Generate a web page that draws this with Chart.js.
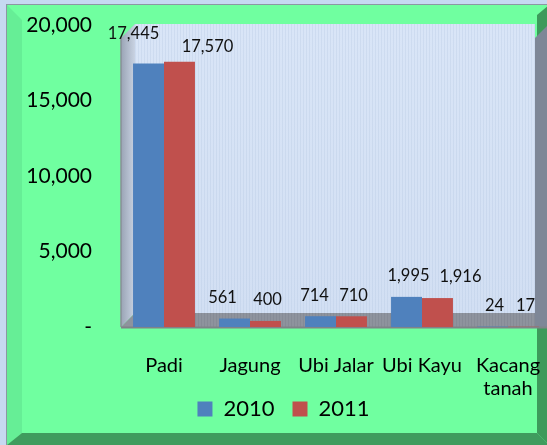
<!DOCTYPE html>
<html>
<head>
<meta charset="utf-8">
<script src="https://cdn.jsdelivr.net/npm/chart.js@4"></script>
<style>
html,body{margin:0;padding:0;background:#c6d9f1;}
#wrap{width:547px;height:445px;overflow:hidden;position:relative;}
canvas{display:block;}
</style>
</head>
<body>
<div id="wrap"><canvas id="c" width="560" height="445" style="width:560px;height:445px"></canvas></div>
<script>
const categories = ['Padi', 'Jagung', 'Ubi Jalar', 'Ubi Kayu', ['Kacang', 'tanah']];
const seriesNames = ['2010', '2011'];
const values2010 = [17445, 561, 714, 1995, 24];
const values2011 = [17570, 400, 710, 1916, 17];
const yTicks = [0, 5000, 10000, 15000, 20000];

const colors = ['#4F81BD', '#C0504D'];
const labelNudges = [
  [[-17, -9], [-14, 0], [-8, 0], [0, 0], [0, 0]],
  [[26, 6], [0, 0], [0, 0], [21, 0], [0, 0]]
];

const FONT = 'Lato, "Open Sans", sans-serif';

const backgroundPlugin = {
  id: 'bg3d',
  beforeDraw(chart) {
    const ctx = chart.ctx;
    const a = chart.chartArea;
    const W = chart.width, H = chart.height;
    ctx.save();
    ctx.fillStyle = '#c6d9f1';
    ctx.fillRect(0, 0, W, H);
    ctx.fillStyle = '#8c97a3';
    ctx.fillRect(6, 4, W, H);
    ctx.fillStyle = '#70ffa0';
    ctx.fillRect(7, 5, W, H);
    ctx.fillStyle = '#66ee96';
    ctx.beginPath();
    ctx.moveTo(7, 5); ctx.lineTo(22, 20); ctx.lineTo(22, 433); ctx.lineTo(7, 445); ctx.closePath(); ctx.fill();
    ctx.fillStyle = '#3f9c5e';
    ctx.beginPath();
    ctx.moveTo(7, 445); ctx.lineTo(22, 433); ctx.lineTo(537, 433); ctx.lineTo(549, 445); ctx.closePath(); ctx.fill();
    ctx.fillStyle = '#3d9a5b';
    ctx.beginPath();
    ctx.moveTo(549, 5); ctx.lineTo(537, 15); ctx.lineTo(537, 433); ctx.lineTo(549, 445); ctx.closePath(); ctx.fill();

    const d = 14;
    const L = a.left, T = a.top - 1, B = a.bottom;
    const R = 535;
    const g = ctx.createLinearGradient(0, T, 0, B - d);
    g.addColorStop(0, '#d9e5f7');
    g.addColorStop(1, '#d2dff3');
    ctx.fillStyle = g;
    ctx.fillRect(L + d, T, R - (L + d), B - d - T);
    ctx.fillStyle = 'rgba(170,190,220,0.25)';
    for (let x = L + d; x < R; x += 3) ctx.fillRect(x, T, 1, B - d - T);
    const lg = ctx.createLinearGradient(L, 0, L + d, 0);
    lg.addColorStop(0, '#9aa4b5');
    lg.addColorStop(1, '#c9d3e3');
    ctx.fillStyle = lg;
    ctx.beginPath();
    ctx.moveTo(L, T + d); ctx.lineTo(L + d, T); ctx.lineTo(L + d, B - d); ctx.lineTo(L, B); ctx.closePath(); ctx.fill();
    ctx.strokeStyle = '#8a8f98';
    ctx.lineWidth = 1.5;
    ctx.beginPath(); ctx.moveTo(L, T + d); ctx.lineTo(L, B); ctx.stroke();
    ctx.fillStyle = '#8e939d';
    ctx.beginPath();
    ctx.moveTo(L, B); ctx.lineTo(L + d, B - d); ctx.lineTo(W, B - d); ctx.lineTo(W, B); ctx.closePath(); ctx.fill();
    ctx.fillStyle = 'rgba(120,126,138,0.35)';
    for (let x = L + d; x < W; x += 3) ctx.fillRect(x, B - d, 1, d);
    ctx.fillStyle = '#7e8797';
    ctx.beginPath();
    ctx.moveTo(R, T + d); ctx.lineTo(R + 12, T + 2); ctx.lineTo(R + 12, B); ctx.lineTo(R, B); ctx.closePath(); ctx.fill();
    ctx.strokeStyle = '#7f8388';
    ctx.lineWidth = 2;
    ctx.beginPath(); ctx.moveTo(L, B + 0.5); ctx.lineTo(W, B + 0.5); ctx.stroke();
    ctx.restore();
  }
};

const labelPlugin = {
  id: 'barLabels',
  afterDatasetsDraw(chart) {
    const ctx = chart.ctx;
    ctx.save();
    ctx.font = '16.5px ' + FONT;
    ctx.fillStyle = '#111';
    ctx.textAlign = 'center';
    ctx.textBaseline = 'middle';
    chart.data.datasets.forEach((ds, di) => {
      const meta = chart.getDatasetMeta(di);
      meta.data.forEach((bar, i) => {
        const n = labelNudges[di][i];
        const txt = ds.data[i].toLocaleString('en-US');
        ctx.fillText(txt, bar.x + 2 + n[0], bar.y - 21 + n[1]);
      });
    });
    ctx.restore();
  }
};

new Chart(document.getElementById('c'), {
  type: 'bar',
  data: {
    labels: categories,
    datasets: [
      { label: seriesNames[0], data: values2010, backgroundColor: colors[0], borderWidth: 0 },
      { label: seriesNames[1], data: values2011, backgroundColor: colors[1], borderWidth: 0 }
    ]
  },
  options: {
    responsive: false,
    animation: false,
    devicePixelRatio: 1,
    layout: { padding: { top: 25, right: 9, left: 16, bottom: 15 } },
    datasets: { bar: { categoryPercentage: 0.72, barPercentage: 1 } },
    plugins: {
      legend: {
        position: 'bottom',
        labels: {
          boxWidth: 15, boxHeight: 15, padding: 18,
          color: '#000',
          font: { family: FONT, size: 22 }
        }
      },
      tooltip: { enabled: false }
    },
    scales: {
      x: {
        grid: { display: false, drawTicks: true, tickLength: 27 },
        border: { display: false },
        ticks: { color: '#000', font: { family: FONT, size: 20, lineHeight: 1.15 }, padding: 0, maxRotation: 0, autoSkip: false },
        afterFit(s) { s.height = 53; s._computeLabelArea = () => undefined; }
      },
      y: {
        min: 0, max: 20000,
        afterBuildTicks(s) { s.ticks = yTicks.map(v => ({ value: v })); },
        grid: { display: false, drawTicks: true, tickLength: 29 },
        border: { display: false },
        ticks: {
          color: '#000', font: { family: FONT, size: 21 }, padding: 0,
          callback: v => v === 0 ? '-' : v.toLocaleString('en-US')
        },
        afterFit(s) { s.width = 105; }
      }
    }
  },
  plugins: [backgroundPlugin, labelPlugin]
});
</script>
</body>
</html>
